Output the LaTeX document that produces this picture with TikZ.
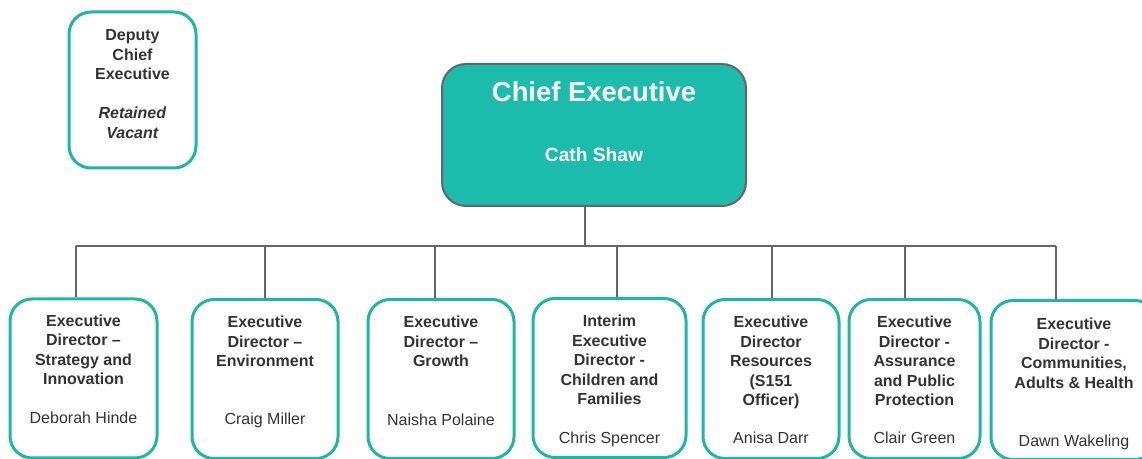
\documentclass[tikz,border=0pt]{standalone}
\usepackage{fontspec}
\setmainfont{Liberation Sans}
\usepackage{xcolor}
\usetikzlibrary{positioning,calc}
\definecolor{ceteal}{HTML}{1BBCAC}
\definecolor{boxteal}{HTML}{1DB7A6}
\definecolor{linegrey}{HTML}{666666}
\definecolor{textgrey}{HTML}{333333}
\tikzstyle{post} = [draw=boxteal, line width=1.5pt, rounded corners=11pt, fill=white, minimum height=79.5pt]
\tikzstyle{role} = [font=\bfseries\fontsize{8}{9.75}\selectfont, text=textgrey, align=center, inner sep=0pt, anchor=north]
\tikzstyle{holder} = [font=\fontsize{8}{9.75}\selectfont, text=textgrey, inner sep=0pt, anchor=base]
\tikzstyle{line} = [draw=linegrey, line width=1.2pt]

\begin{document}
\begin{tikzpicture}[x=0.5pt, y=-0.5pt]
\useasboundingbox (0,0) rectangle (1142,459);
\node (dep) at (132.5,90) [post, minimum width=63.5pt, minimum height=78pt] {};
\node (dep-t) at ($(dep.north)+(0,19)$) [role] {Deputy\\Chief\\Executive\\[9.75pt]\textit{Retained}\\\textit{Vacant}};
\node (ce) at (594,135) [draw=linegrey, line width=1pt, fill=ceteal, rounded corners=12pt, minimum width=152pt, minimum height=71pt] {};
\node (ce-t) at (594,102) [anchor=base, inner sep=0pt, text=white, font=\bfseries\fontsize{13.7}{16}\selectfont] {Chief Executive};
\node (ce-n) at (594,162) [anchor=base, inner sep=0pt, text=white, font=\bfseries\fontsize{9.6}{11}\selectfont] {Cath Shaw};
\node (str) at (83.5,378.5) [post, minimum width=73.5pt] {};
\node (env) at (265,379) [post, minimum width=73pt] {};
\node (gro) at (441,379) [post, minimum width=73pt] {};
\node (chi) at (609.5,378) [post, minimum width=76.5pt] {};
\node (res) at (771,379) [post, minimum width=68pt] {};
\node (ass) at (914.5,379) [post, minimum width=65.5pt] {};
\node (com) at (1074,380) [post, minimum width=83pt] {};
\node (str-t) at ($(str.north)+(0,17)$) [role] {Executive\\Director --\\Strategy and\\Innovation};
\node (env-t) at ($(env.north)+(0,18)$) [role] {Executive\\Director --\\Environment};
\node (gro-t) at ($(gro.north)+(0,18)$) [role] {Executive\\Director --\\Growth};
\node (chi-t) at ($(chi.north)+(0,18)$) [role] {Interim\\Executive\\Director -\\Children and\\Families};
\node (res-t) at ($(res.north)+(0,18)$) [role] {Executive\\Director\\Resources\\(S151\\Officer)};
\node (ass-t) at ($(ass.north)+(0,18)$) [role] {Executive\\Director -\\Assurance\\and Public\\Protection};
\node (com-t) at ($(com.north)+(0,19)$) [role] {Executive\\Director -\\Communities,\\Adults \& Health};
\node (str-n) at (83.5,424) [holder] {Deborah Hinde};
\node (env-n) at (265,425) [holder] {Craig Miller};
\node (gro-n) at (441,426) [holder] {Naisha Polaine};
\node (chi-n) at (609.5,444) [holder] {Chris Spencer};
\node (res-n) at (771,444) [holder] {Anisa Darr};
\node (ass-n) at (914.5,444) [holder] {Clair Green};
\node (com-n) at (1074,447) [holder] {Dawn Wakeling};
\coordinate (stem) at (585,246);
\coordinate (d1) at (76,246);
\coordinate (d2) at (265,246);
\coordinate (d3) at (435,246);
\coordinate (d4) at (617,246);
\coordinate (d5) at (772,246);
\coordinate (d6) at (905,246);
\coordinate (d7) at (1056,246);
\draw[line] (stem |- ce.south) -- (stem);
\draw[line] (d1) -- (d7);
\draw[line] (d1) -- (d1 |- str.north);
\draw[line] (d2) -- (d2 |- env.north);
\draw[line] (d3) -- (d3 |- gro.north);
\draw[line] (d4) -- (d4 |- chi.north);
\draw[line] (d5) -- (d5 |- res.north);
\draw[line] (d6) -- (d6 |- ass.north);
\draw[line] (d7) -- (d7 |- com.north);
\end{tikzpicture}
\end{document}
